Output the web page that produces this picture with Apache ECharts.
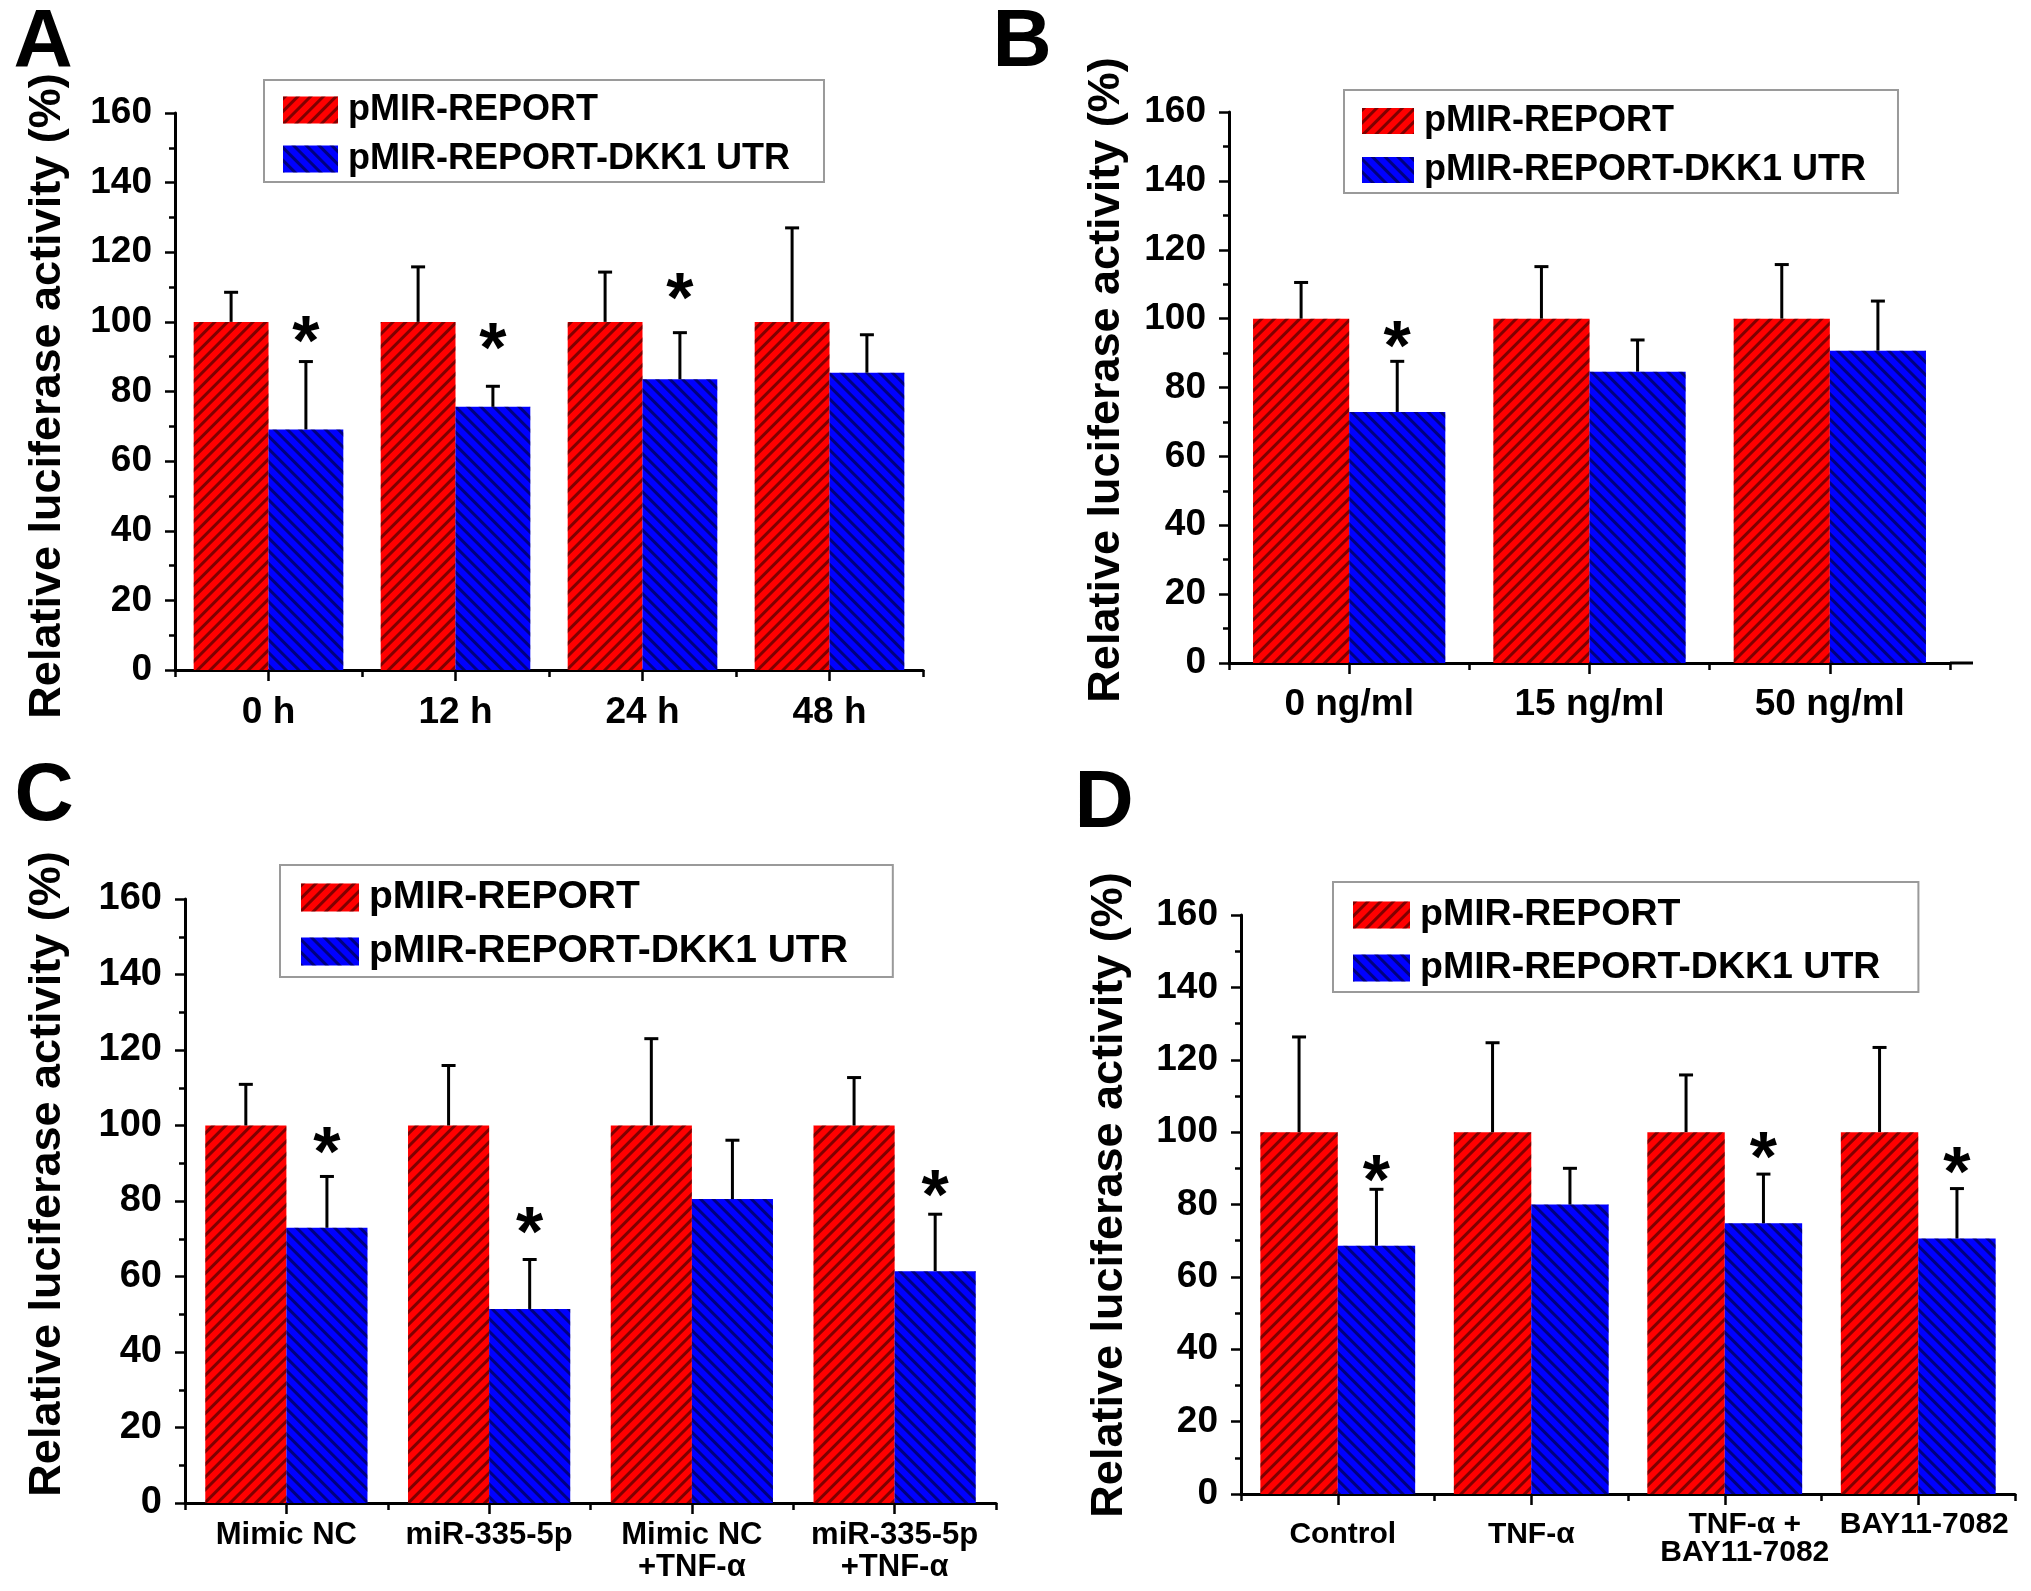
<!DOCTYPE html>
<html>
<head>
<meta charset="utf-8">
<script src="https://cdn.jsdelivr.net/npm/echarts@6/dist/echarts.min.js"></script>
<style>
html,body{margin:0;padding:0;background:#fff;}
#main{width:2031px;height:1591px;}
</style>
</head>
<body>
<div id="main"></div>
<script>
// ---------------- DATA ----------------
const seriesNames = ['pMIR-REPORT', 'pMIR-REPORT-DKK1 UTR'];
const yTicks = [0, 20, 40, 60, 80, 100, 120, 140, 160];

const catsA = ['0 h', '12 h', '24 h', '48 h'];
const redA = [100, 100, 100, 100];
const redErrA = [8.5, 15.8, 14.3, 27.0];
const blueA = [69.1, 75.6, 83.5, 85.4];
const blueErrA = [19.5, 5.9, 13.4, 10.9];
const starsA = [97.7, 95.6, 110.0, null];

const catsB = ['0 ng/ml', '15 ng/ml', '50 ng/ml'];
const redB = [100, 100, 100];
const redErrB = [10.5, 15.1, 15.7];
const blueB = [72.9, 84.6, 90.7];
const blueErrB = [14.7, 9.2, 14.4];
const starsB = [95.2, null, null];

const catsC = ['Mimic NC', 'miR-335-5p', 'Mimic NC\n+TNF-α', 'miR-335-5p\n+TNF-α'];
const redC = [100, 100, 100, 100];
const redErrC = [10.9, 15.9, 23.0, 12.7];
const blueC = [72.9, 51.4, 80.5, 61.4];
const blueErrC = [13.6, 13.1, 15.6, 15.1];
const starsC = [96.1, 74.9, null, 84.7];

const catsD = ['Control', 'TNF-α', 'TNF-α +\nBAY11-7082', 'BAY11-7082'];
const redD = [100, 100, 100, 100];
const redErrD = [26.3, 24.7, 15.8, 23.4];
const blueD = [68.6, 80.0, 74.8, 70.6];
const blueErrD = [15.6, 10.0, 13.6, 13.8];
const starsD = [90.0, null, 96.3, 92.1];

const panelLetters = ['A', 'B', 'C', 'D'];
const yTitle = 'Relative luciferase activity (%)';

// ---------------- LAYOUT ----------------
const FONT = "'Liberation Sans', Arial, Helvetica, sans-serif";
const layouts = [
  { grid: {left: 175, top: 113, width: 748, height: 557},
    legend: {left: 264, top: 80, pad: [12, 34, 5, 19], iw: 55, ih: 27, font: 36, lh: 31, gap: 13},
    yFont: 37, xFont: 37, xMargin: 24, xLH: 37,
    title: {x: 48, y: 396, size: 45}, letter: {x: 43, y: 43}, axisExt: 0 },
  { grid: {left: 1229, top: 112, width: 721, height: 551},
    legend: {left: 1344, top: 90, pad: [13, 32, 5, 18], iw: 52, ih: 26, font: 36, lh: 31, gap: 13},
    yFont: 37, xFont: 37, xMargin: 23, xLH: 37,
    title: {x: 1107, y: 380, size: 45}, letter: {x: 1022, y: 43}, axisExt: 23 },
  { grid: {left: 185, top: 899, width: 811, height: 604},
    legend: {left: 280, top: 865, pad: [13, 45, 6, 21], iw: 58, ih: 28, font: 39, lh: 33, gap: 15},
    yFont: 38, xFont: 31, xMargin: 16, xLH: 32,
    title: {x: 48, y: 1174, size: 45}, letter: {x: 44, y: 797}, axisExt: 0 },
  { grid: {left: 1241, top: 915, width: 774, height: 579},
    legend: {left: 1333, top: 882, pad: [14, 38, 5, 20], iw: 57, ih: 27, font: 37.5, lh: 32, gap: 15},
    yFont: 37, xFont: 30, xMargin: 17, xLH: 28,
    title: {x: 1110, y: 1195, size: 45}, letter: {x: 1104, y: 804}, axisExt: 0 }
];

const panels = [
  {cats: catsA, red: redA, redErr: redErrA, blue: blueA, blueErr: blueErrA, stars: starsA},
  {cats: catsB, red: redB, redErr: redErrB, blue: blueB, blueErr: blueErrB, stars: starsB},
  {cats: catsC, red: redC, redErr: redErrC, blue: blueC, blueErr: blueErrC, stars: starsC},
  {cats: catsD, red: redD, redErr: redErrD, blue: blueD, blueErr: blueErrD, stars: starsD}
];

// per-category label tweaks for panel D (layout only)
const dLabelStyles = [
  {padding: [10, 0, 0, 10]},
  {padding: [10, 0, 0, 0]},
  {padding: [0, 0, 0, 40]},
  {padding: [0, 0, 0, 12]}
];

const redDecal = {symbol: 'rect', symbolSize: 1, color: 'rgba(0,0,0,0.5)', dashArrayX: [1, 0], dashArrayY: [3, 5.5], rotation: -Math.PI / 4};
const blueDecal = {symbol: 'rect', symbolSize: 1, color: 'rgba(0,0,0,0.5)', dashArrayX: [1, 0], dashArrayY: [3, 5.5], rotation: Math.PI / 4};

const chart = echarts.init(document.getElementById('main'), null, {renderer: 'canvas'});

const grids = [], xAxes = [], xTickAxes = [], yAxes = [], legends = [], series = [], graphics = [];

panels.forEach((p, g) => {
  const L = layouts[g];
  grids.push(Object.assign({containLabel: false}, L.grid));
  let labelData = p.cats;
  if (g === 3) labelData = p.cats.map((c, i) => ({value: c, textStyle: dLabelStyles[i]}));
  xAxes.push({
    type: 'category', gridIndex: g, position: 'bottom', data: labelData,
    axisLine: {show: true, lineStyle: {color: '#000', width: 3}},
    axisTick: {show: true, alignWithLabel: true, length: 11, lineStyle: {color: '#000', width: 2.5}},
    axisLabel: {show: true, interval: 0, color: '#000', fontFamily: FONT, fontWeight: 'bold',
      fontSize: L.xFont, lineHeight: L.xLH, margin: L.xMargin, verticalAlign: 'top'},
    splitLine: {show: false}
  });
  xTickAxes.push({
    type: 'category', gridIndex: g, position: 'bottom', data: p.cats,
    axisLine: {show: false},
    axisTick: {show: true, length: 7, lineStyle: {color: '#000', width: 2.5}},
    axisLabel: {show: false}, splitLine: {show: false}
  });
  yAxes.push({
    type: 'value', gridIndex: g, min: yTicks[0], max: yTicks[yTicks.length - 1], interval: yTicks[1] - yTicks[0],
    axisLine: {show: true, lineStyle: {color: '#000', width: 3}},
    axisTick: {show: true, length: 10, lineStyle: {color: '#000', width: 2.5}},
    minorTick: {show: true, splitNumber: 2, length: 6, lineStyle: {color: '#000', width: 2.5}},
    splitLine: {show: false}, minorSplitLine: {show: false},
    axisLabel: {color: '#000', fontFamily: FONT, fontWeight: 'bold', fontSize: L.yFont, margin: 23}
  });
  legends.push({
    data: seriesNames, orient: 'vertical', left: L.legend.left, top: L.legend.top,
    padding: L.legend.pad, itemWidth: L.legend.iw, itemHeight: L.legend.ih, itemGap: L.legend.gap,
    borderColor: '#9a9a9a', borderWidth: 2, borderRadius: 0, icon: 'rect', selectedMode: false,
    textStyle: {color: '#000', fontFamily: FONT, fontWeight: 'bold', fontSize: L.legend.font, lineHeight: L.legend.lh, padding: [0, 0, 0, 5]}
  });

  series.push({
    name: seriesNames[0], type: 'bar', xAxisIndex: g, yAxisIndex: g, data: p.red,
    barWidth: '40%', barGap: '0%', itemStyle: {color: '#ff0000', decal: redDecal}, z: 2
  });
  series.push({
    name: seriesNames[1], type: 'bar', xAxisIndex: g, yAxisIndex: g, data: p.blue,
    barWidth: '40%', barGap: '0%', itemStyle: {color: '#0000ff', decal: blueDecal}, z: 2
  });

  // error bars (upper half only, with cap)
  const errData = [];
  p.red.forEach((v, i) => errData.push([i, v, p.redErr[i], -1]));
  p.blue.forEach((v, i) => errData.push([i, v, p.blueErr[i], 1]));
  series.push({
    name: 'err' + g, type: 'custom', xAxisIndex: g, yAxisIndex: g, data: errData,
    encode: {x: 0, y: 1}, z: 5, silent: true,
    renderItem: function (params, api) {
      const idx = api.value(0), mean = api.value(1), err = api.value(2), side = api.value(3);
      const band = api.size([1, 0])[0];
      const base = api.coord([idx, mean]);
      const top = api.coord([idx, mean + err]);
      const x = base[0] + side * band * 0.2;
      const cap = 7;
      return {
        type: 'group', children: [
          {type: 'line', shape: {x1: x, y1: base[1], x2: x, y2: top[1]}, style: {stroke: '#000', lineWidth: 3}},
          {type: 'line', shape: {x1: x - cap, y1: top[1], x2: x + cap, y2: top[1]}, style: {stroke: '#000', lineWidth: 3}}
        ]
      };
    }
  });

  // significance asterisks above the blue bars
  const starData = [];
  p.stars.forEach((v, i) => { if (v !== null) starData.push([i, v]); });
  series.push({
    name: 'star' + g, type: 'custom', xAxisIndex: g, yAxisIndex: g, data: starData,
    encode: {x: 0, y: 1}, z: 6, silent: true,
    renderItem: function (params, api) {
      const band = api.size([1, 0])[0];
      const c = api.coord([api.value(0), api.value(1)]);
      return {
        type: 'text', x: c[0] + band * 0.2, y: c[1] + 16,
        style: {text: '*', fill: '#000', font: 'bold 70px ' + FONT, align: 'center', verticalAlign: 'middle',
          textAlign: 'center', textVerticalAlign: 'middle'}
      };
    }
  });

  graphics.push({
    type: 'text', x: L.title.x, y: L.title.y, rotation: Math.PI / 2,
    style: {text: yTitle, fill: '#000', font: 'bold ' + L.title.size + 'px ' + FONT,
      align: 'center', verticalAlign: 'middle', textAlign: 'center', textVerticalAlign: 'middle'}
  });
  graphics.push({
    type: 'text', x: L.letter.x, y: L.letter.y,
    style: {text: panelLetters[g], fill: '#000', font: 'bold 82px ' + FONT,
      align: 'center', verticalAlign: 'middle', textAlign: 'center', textVerticalAlign: 'middle'}
  });
  if (L.axisExt > 0) {
    const gx = L.grid.left + L.grid.width, gy = L.grid.top + L.grid.height;
    graphics.push({
      type: 'line', shape: {x1: gx, y1: gy, x2: gx + L.axisExt, y2: gy},
      style: {stroke: '#000', lineWidth: 3}
    });
  }
});

chart.setOption({
  backgroundColor: '#fff',
  animation: false,
  grid: grids,
  xAxis: xAxes.concat(xTickAxes),
  yAxis: yAxes,
  legend: legends,
  series: series,
  graphic: graphics
});
</script>
</body>
</html>
